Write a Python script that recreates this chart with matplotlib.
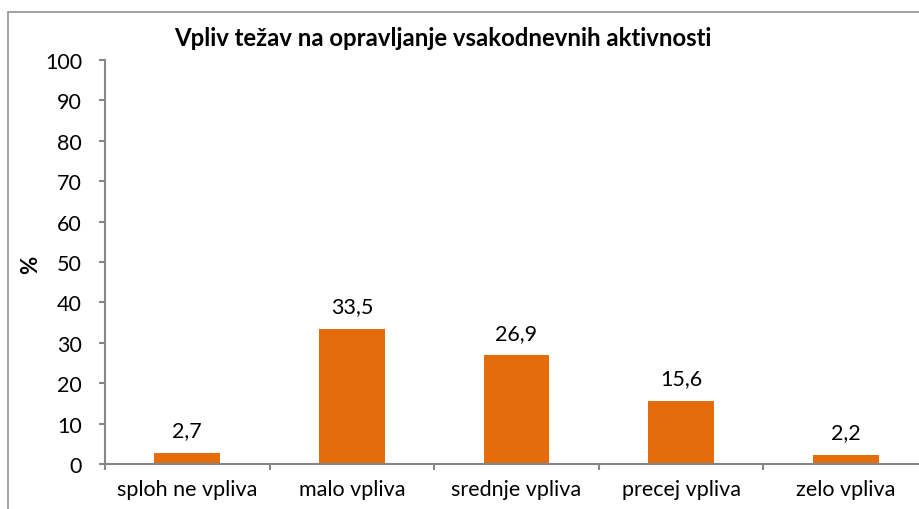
" Bar chart: Vpliv težav na opravljanje vsakodnevnih aktivnosti "

# imports
import matplotlib.pyplot as plt
import matplotlib.patches as mpatches
import numpy as np

# data
categories = ["sploh ne vpliva", "malo vpliva", "srednje vpliva", "precej vpliva", "zelo vpliva"]
values = [2.7, 33.5, 26.9, 15.6, 2.2]
value_labels = ["2,7", "33,5", "26,9", "15,6", "2,2"]
y_ticks = list(range(0, 101, 10))

title = "Vpliv težav na opravljanje vsakodnevnih aktivnosti"
y_label = "%"

bar_color = "#E46C0A"
axis_color = "#868686"
border_color = "#9A9A9A"

plt.rcParams["font.family"] = ["Lato", "DejaVu Sans"]
fs = 15.5

W, H = 920, 510
fig = plt.figure(figsize=(W / 100, H / 100), dpi=100)
ax = fig.add_axes([105 / W, 1 - 465 / H, (928 - 105) / W, (465 - 61) / H])

x = np.arange(len(categories))
ax.bar(x, values, width=0.4, color=bar_color, zorder=2)
for xi, v, lab in zip(x, values, value_labels):
    ax.annotate(lab, (xi, v), xytext=(0, 12), textcoords="offset points",
                ha="center", va="baseline", fontsize=fs, color="black")

ax.set_xlim(-0.5, len(categories) - 0.5)
ax.set_ylim(0, 100)
ax.set_yticks(y_ticks)
ax.set_yticklabels([str(t) for t in y_ticks], fontsize=fs)
ax.set_xticks(x)
ax.set_xticklabels(categories, fontsize=fs)
ax.set_xticks(np.arange(len(categories) + 1) - 0.5, minor=True)
ax.tick_params(axis="x", which="major", length=0, pad=11)
ax.tick_params(axis="x", which="minor", length=4.5, width=1.5, color=axis_color)
ax.tick_params(axis="y", length=4.5, width=1.5, color=axis_color, pad=12)

for side in ["top", "right"]:
    ax.spines[side].set_visible(False)
for side in ["left", "bottom"]:
    ax.spines[side].set_color(axis_color)
    ax.spines[side].set_linewidth(1.5)

fig.text(443 / W, 1 - 38 / H, title, ha="center", va="center",
         fontsize=17.2, fontweight="bold")
fig.text(31 / W, 1 - 265 / H, y_label, ha="center", va="center",
         rotation=90, fontsize=16, fontweight="bold")

# outer chart border (cropped at right and bottom)
fig.patches.append(mpatches.Rectangle(
    (8 / W, -0.1), 1.2, (H - 12.5) / H + 0.1, transform=fig.transFigure,
    fill=False, edgecolor=border_color, linewidth=1.3))

fig.savefig("out.png", dpi=100)
